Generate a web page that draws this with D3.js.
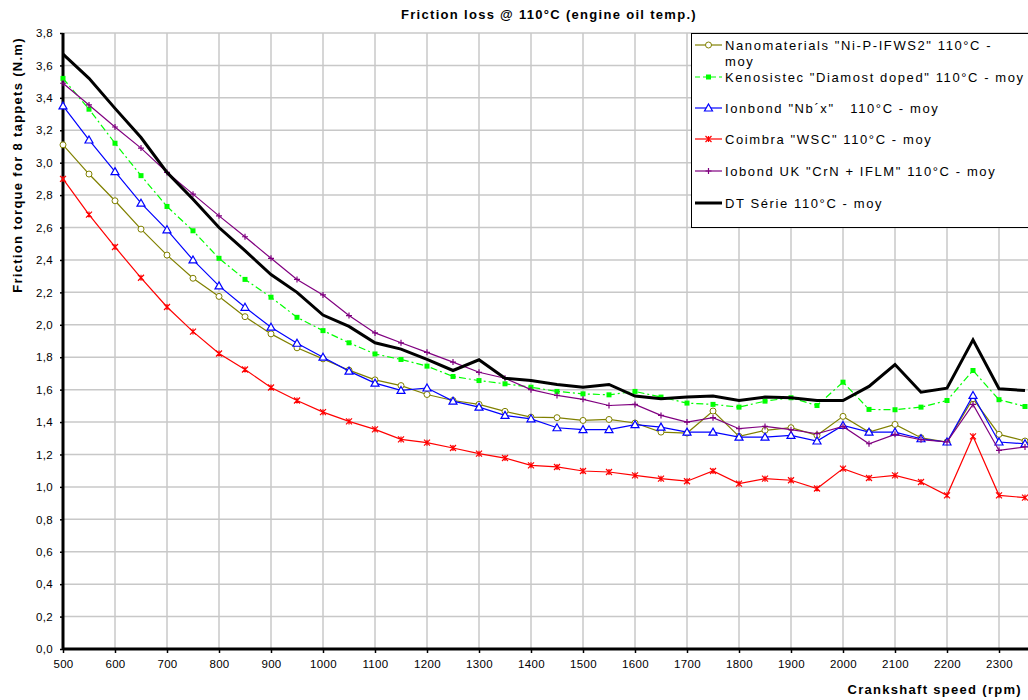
<!DOCTYPE html>
<html>
<head>
<meta charset="utf-8">
<title>Friction loss @ 110°C</title>
<script src="https://cdn.jsdelivr.net/npm/d3@7"></script>
<style>
body { margin: 0; background: #fff; }
text { font-family: "Liberation Sans", Arial, sans-serif; fill: #000; }
.grid line { stroke: #c8c8c8; stroke-width: 1.5px; }
.tick-label { font-size: 11.5px; letter-spacing: 0.3px; }
.bold { font-weight: bold; font-size: 13px; letter-spacing: 1.3px; }
.legend text { font-size: 13px; letter-spacing: 1.6px; white-space: pre; }
</style>
</head>
<body>
<script>
// crankshaft speed (rpm), one reading every 50 rpm
var rpm = d3.range(500, 2351, 50);

var nanomaterials = [3.11, 2.93, 2.765, 2.59, 2.43, 2.287, 2.175, 2.05, 1.944, 1.858,
  1.79, 1.72, 1.66, 1.625, 1.57, 1.533, 1.509, 1.466, 1.43, 1.427,
  1.41, 1.416, 1.394, 1.338, 1.332, 1.468, 1.312, 1.349, 1.365, 1.318,
  1.435, 1.338, 1.385, 1.303, 1.277, 1.544, 1.324, 1.283];
var kenosistec = [3.52, 3.33, 3.12, 2.92, 2.73, 2.58, 2.41, 2.28, 2.17, 2.046,
  1.964, 1.889, 1.82, 1.786, 1.745, 1.681, 1.656, 1.636, 1.615, 1.589,
  1.574, 1.568, 1.589, 1.554, 1.517, 1.509, 1.492, 1.529, 1.55, 1.502,
  1.646, 1.478, 1.476, 1.492, 1.533, 1.718, 1.538, 1.496];
var ionbond = [3.35, 3.14, 2.945, 2.75, 2.586, 2.40, 2.24, 2.108, 1.985, 1.886,
  1.80, 1.714, 1.64, 1.595, 1.61, 1.529, 1.492, 1.441, 1.42, 1.365,
  1.353, 1.353, 1.384, 1.369, 1.338, 1.338, 1.307, 1.307, 1.318, 1.283,
  1.379, 1.338, 1.338, 1.297, 1.277, 1.564, 1.277, 1.266];
var coimbra = [2.90, 2.68, 2.48, 2.29, 2.11, 1.958, 1.823, 1.724, 1.613, 1.533,
  1.461, 1.404, 1.355, 1.293, 1.273, 1.24, 1.205, 1.178, 1.133, 1.123,
  1.098, 1.092, 1.071, 1.051, 1.035, 1.098, 1.02, 1.051, 1.041, 0.99,
  1.113, 1.055, 1.071, 1.03, 0.948, 1.312, 0.948, 0.934];
var iobondUK = [3.49, 3.356, 3.22, 3.09, 2.94, 2.806, 2.672, 2.543, 2.41, 2.28,
  2.184, 2.057, 1.95, 1.889, 1.83, 1.77, 1.707, 1.67, 1.60, 1.564,
  1.54, 1.502, 1.509, 1.441, 1.40, 1.427, 1.359, 1.373, 1.353, 1.328,
  1.373, 1.266, 1.324, 1.291, 1.277, 1.509, 1.225, 1.246];
var dtSerie = [3.67, 3.52, 3.335, 3.155, 2.94, 2.775, 2.60, 2.457, 2.31, 2.20,
  2.06, 1.99, 1.889, 1.85, 1.786, 1.718, 1.784, 1.67, 1.656, 1.632,
  1.615, 1.632, 1.56, 1.544, 1.554, 1.56, 1.533, 1.554, 1.55, 1.533,
  1.533, 1.62, 1.755, 1.584, 1.609, 1.907, 1.605, 1.595];

var seriesNames = [
  ['Nanomaterials "Ni-P-IFWS2" 110°C -', 'moy'],
  ['Kenosistec "Diamost doped" 110°C - moy'],
  ['Ionbond "Nb´x"   110°C - moy'],
  ['Coimbra "WSC" 110°C - moy'],
  ['Iobond UK "CrN + IFLM" 110°C - moy'],
  ['DT Série 110°C - moy']
];
var seriesValues = [nanomaterials, kenosistec, ionbond, coimbra, iobondUK, dtSerie];
var seriesColors = ["#808000", "#00ff00", "#0000ff", "#ff0000", "#800080", "#000000"];
var seriesMarkers = ["circle", "square", "triangle", "star", "plus", "none"];

var xTicks = d3.range(500, 2301, 100);
var yTicks = d3.range(0, 3.81, 0.2);

var width = 1028, height = 700;
var svg = d3.select("body").append("svg")
    .attr("width", width)
    .attr("height", height);

var x = d3.scaleLinear().domain([500, 2400]).range([63, 1051]);
var y = d3.scaleLinear().domain([0, 3.8]).range([649, 33]);
var fmt = function(v) { return d3.format(".1f")(v).replace(".", ","); };

// grid
var grid = svg.append("g").attr("class", "grid");
grid.selectAll(".gx").data(d3.range(600, 2401, 100)).enter().append("line")
    .attr("x1", d => x(d)).attr("x2", d => x(d))
    .attr("y1", y(3.8)).attr("y2", y(0));
grid.selectAll(".gy").data(yTicks.slice(1)).enter().append("line")
    .attr("x1", x(500)).attr("x2", x(2400))
    .attr("y1", d => y(d)).attr("y2", d => y(d));

// axes
var xAxis = svg.append("g")
    .attr("transform", "translate(0," + y(0) + ")")
    .call(d3.axisBottom(x).tickValues(xTicks).tickSize(4).tickPadding(7).tickFormat(d3.format("d")));
var yAxis = svg.append("g")
    .attr("transform", "translate(" + x(500) + ",0)")
    .call(d3.axisLeft(y).tickValues(yTicks).tickSize(3).tickPadding(7).tickFormat(fmt));
[xAxis, yAxis].forEach(function(a) {
  a.select(".domain").attr("stroke", "#000").attr("stroke-width", 3);
  a.selectAll(".tick line").attr("stroke", "#000").attr("stroke-width", 1.5);
  a.selectAll(".tick text").attr("class", "tick-label").attr("font-size", null).attr("font-family", null);
});
yAxis.select(".domain").attr("d", "M0," + y(0) + "V" + y(3.8));
xAxis.select(".domain").attr("d", "M" + x(500) + ",0H" + x(2400));

// markers
function drawMarker(g, kind, color) {
  if (kind == "circle") {
    g.append("circle").attr("r", 3).attr("fill", "#fff").attr("stroke", color).attr("stroke-width", 1);
  } else if (kind == "square") {
    g.append("rect").attr("x", -2.5).attr("y", -2.5).attr("width", 5).attr("height", 5).attr("fill", color);
  } else if (kind == "triangle") {
    g.append("path").attr("d", "M0,-4L4,3L-4,3Z").attr("fill", "#fff").attr("stroke", color).attr("stroke-width", 1.2);
  } else if (kind == "star") {
    g.append("path").attr("d", "M-3,-3L3,3M3,-3L-3,3M0,-3V3").attr("stroke", color).attr("stroke-width", 1.2);
  } else if (kind == "plus") {
    g.append("path").attr("d", "M-3,0H3M0,-3V3").attr("stroke", color).attr("stroke-width", 1.2);
  }
}

var line = d3.line()
    .x(function(d) { return x(d.rpm); })
    .y(function(d) { return y(d.v); });

seriesValues.forEach(function(vals, i) {
  var pts = vals.map(function(v, j) { return {rpm: rpm[j], v: v}; });
  var isBlack = i == 5;
  svg.append("path")
      .datum(pts)
      .attr("d", line)
      .attr("fill", "none")
      .attr("stroke", seriesColors[i])
      .attr("stroke-width", isBlack ? 3 : 1.2)
      .attr("stroke-dasharray", i == 1 ? "7,3,2,3" : null);
  if (!isBlack) {
    svg.append("g").selectAll("g").data(pts).enter().append("g")
        .attr("transform", function(d) { return "translate(" + x(d.rpm) + "," + y(d.v) + ")"; })
        .each(function() { drawMarker(d3.select(this), seriesMarkers[i], seriesColors[i]); });
  }
});

// legend
var legend = svg.append("g").attr("class", "legend");
legend.append("rect")
    .attr("x", 691.5).attr("y", 33.5)
    .attr("width", 360).attr("height", 194)
    .attr("fill", "#fff").attr("stroke", "#000").attr("stroke-width", 1);
var rowY = [45, 77, 108, 139, 171, 203];
seriesNames.forEach(function(name, i) {
  var g = legend.append("g").attr("transform", "translate(0," + rowY[i] + ")");
  g.append("line")
      .attr("x1", 695).attr("x2", 722)
      .attr("stroke", seriesColors[i])
      .attr("stroke-width", i == 5 ? 3 : 1.2)
      .attr("stroke-dasharray", i == 1 ? "5,3" : null);
  var m = g.append("g").attr("transform", "translate(708.5,0)");
  drawMarker(m, seriesMarkers[i], seriesColors[i]);
  name.forEach(function(t, k) {
    g.append("text")
        .attr("x", 725).attr("y", k * 16)
        .attr("dy", "0.35em")
        .text(t);
  });
});

// titles
svg.append("text")
    .attr("class", "bold")
    .attr("x", 549).attr("y", 19)
    .attr("text-anchor", "middle")
    .text("Friction loss @ 110°C (engine oil temp.)");

svg.append("text")
    .attr("class", "bold")
    .attr("x", 1022).attr("y", 694)
    .attr("text-anchor", "end")
    .text("Crankshaft speed (rpm)");

svg.append("text")
    .attr("class", "bold")
    .attr("transform", "translate(22,165) rotate(-90)")
    .attr("text-anchor", "middle")
    .text("Friction torque for 8 tappets (N.m)");
</script>
</body>
</html>
